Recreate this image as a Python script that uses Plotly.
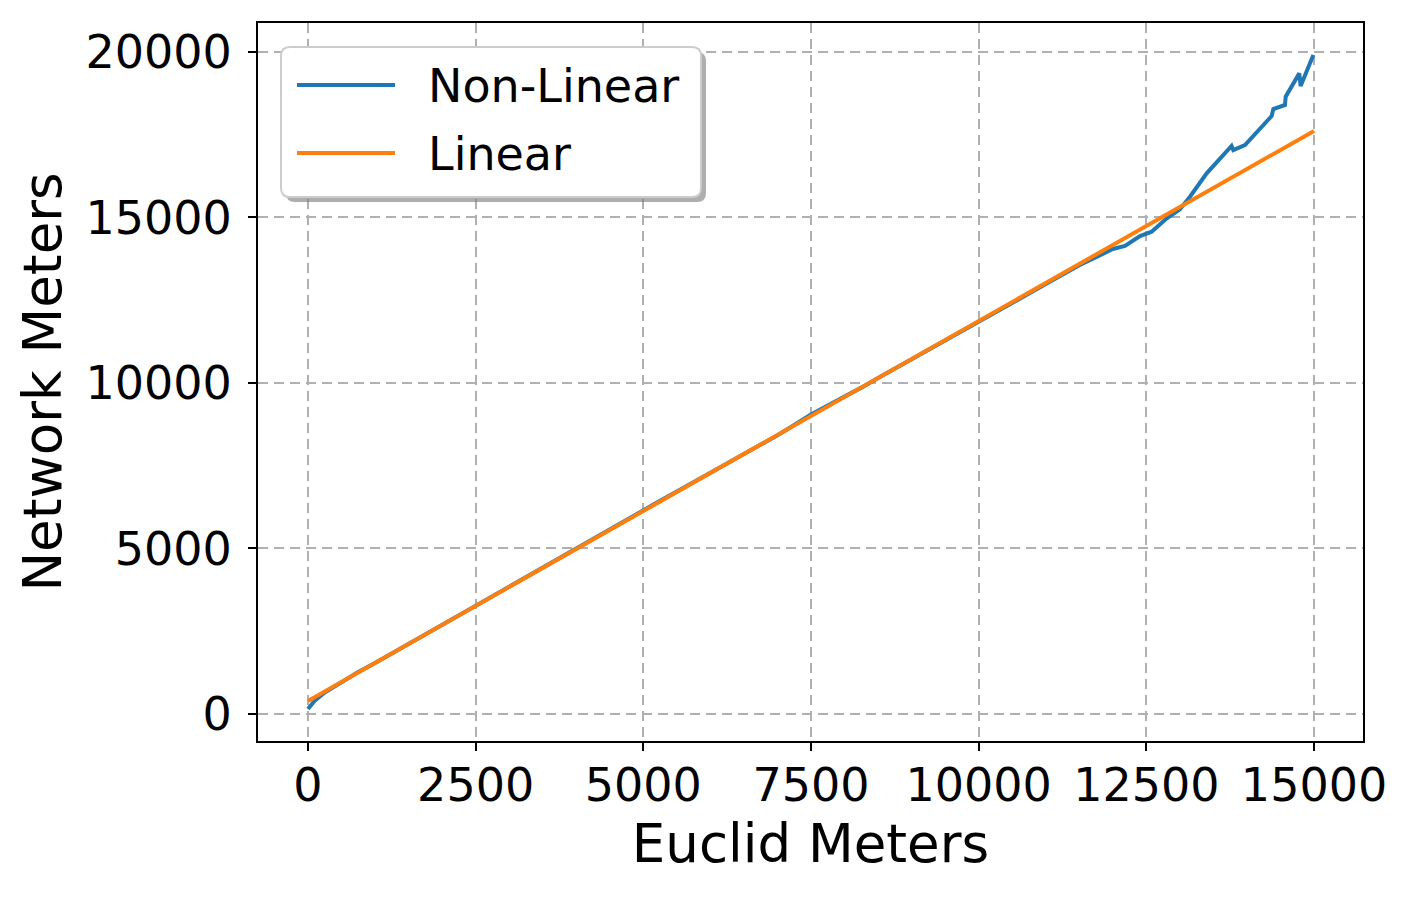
import plotly.graph_objects as go

# ---- data ----
nonlinear_x = [0, 100, 250, 500, 750, 1000, 1250, 1500, 1750, 2000, 2250, 2500, 2750, 3000,
               3250, 3500, 3750, 4000, 4250, 4500, 4750, 5000, 5250, 5500, 5750, 6000, 6250,
               6500, 6750, 7000, 7250, 7500, 7750, 8000, 8250, 8500, 8750, 9000, 9250, 9500,
               9750, 10000, 10250, 10500, 10750, 11000, 11250, 11500, 11750, 12000, 12181,
               12405, 12579, 12800, 13000, 13150, 13399, 13771, 13796, 13970, 14368, 14393,
               14567, 14577, 14780, 14800, 14990]
nonlinear_y = [150, 400, 650, 960, 1270, 1540, 1830, 2110, 2400, 2680, 2970, 3250, 3540, 3830,
               4120, 4410, 4700, 4990, 5300, 5600, 5880, 6170, 6440, 6720, 7000, 7280, 7550,
               7840, 8120, 8420, 8730, 9050, 9320, 9580, 9860, 10150, 10430, 10720, 10990, 11280,
               11570, 11850, 12130, 12410, 12700, 12990, 13280, 13560, 13800, 14050, 14139,
               14441, 14571, 14970, 15250, 15628, 16334, 17160, 17039, 17190, 18066, 18278,
               18399, 18650, 19354, 18973, 19909]
linear_x = [0, 15000]
linear_y = [393, 17613]
series_names = ["Non-Linear", "Linear"]
x_ticks = [0, 2500, 5000, 7500, 10000, 12500, 15000]
y_ticks = [0, 5000, 10000, 15000, 20000]

OFF = 8  # default page body margin
W, H = 1410 - 2 * OFF, 897 - 2 * OFF
# plot area in page pixels
PL, PR, PT, PB = 258, 1363, 23, 741
L, R, T, B = PL - OFF, PR - OFF, PT - OFF, PB - OFF
FONT = "DejaVu Sans"
BLUE, ORANGE = "#1f77b4", "#ff7f0e"


def px(x):  # page pixel -> paper
    return (x - PL) / (PR - PL)


def py(y):
    return (PB - y) / (PB - PT)


def rrect(x0, y0, x1, y1, r):
    return (f"M {px(x0 + r)} {py(y0)} L {px(x1 - r)} {py(y0)} "
            f"Q {px(x1)} {py(y0)} {px(x1)} {py(y0 + r)} "
            f"L {px(x1)} {py(y1 - r)} Q {px(x1)} {py(y1)} {px(x1 - r)} {py(y1)} "
            f"L {px(x0 + r)} {py(y1)} Q {px(x0)} {py(y1)} {px(x0)} {py(y1 - r)} "
            f"L {px(x0)} {py(y0 + r)} Q {px(x0)} {py(y0)} {px(x0 + r)} {py(y0)} Z")


fig = go.Figure()
fig.add_trace(go.Scatter(x=nonlinear_x, y=nonlinear_y, mode="lines", name=series_names[0],
                         line=dict(color=BLUE, width=4)))
fig.add_trace(go.Scatter(x=linear_x, y=linear_y, mode="lines", name=series_names[1],
                         line=dict(color=ORANGE, width=4)))

axis_common = dict(
    showline=True, linecolor="black", linewidth=2, mirror=True,
    ticks="outside", ticklen=8, tickwidth=2, tickcolor="black",
    showgrid=True, gridcolor="#b0b0b0", gridwidth=2, griddash="10px,6px",
    zeroline=False, tickfont=dict(family=FONT, size=46, color="black"),
)
fig.update_xaxes(range=[-745, 15730], tickvals=x_ticks, ticktext=[str(v) for v in x_ticks],
                 ticklabelstandoff=-5,
                 title=dict(text="Euclid Meters", font=dict(family=FONT, size=53, color="black"),
                            standoff=14),
                 **axis_common)
fig.update_yaxes(range=[-816, 20876], tickvals=y_ticks, ticktext=[str(v) for v in y_ticks],
                 ticklabelstandoff=7,
                 title=dict(text="Network Meters", font=dict(family=FONT, size=53, color="black"),
                            standoff=7),
                 **axis_common)

# manual legend (matplotlib-style with shadow)
lx0, ly0, lx1, ly1 = 281, 47, 701, 197
shapes = [
    dict(type="path", xref="paper", yref="paper", path=rrect(lx0 + 5, ly0 + 5, lx1 + 5, ly1 + 5, 9),
         fillcolor="rgba(120,120,120,0.6)", line=dict(width=0), layer="above"),
    dict(type="path", xref="paper", yref="paper", path=rrect(lx0, ly0, lx1, ly1, 9),
         fillcolor="white", line=dict(color="#cccccc", width=2), layer="above"),
]
items = [(series_names[0], BLUE, 85), (series_names[1], ORANGE, 153)]
annotations = []
for name, color, ypix in items:
    shapes.append(dict(type="line", xref="paper", yref="paper", x0=px(297), x1=px(395),
                       y0=py(ypix), y1=py(ypix), line=dict(color=color, width=4), layer="above"))
    annotations.append(dict(text=name, xref="paper", yref="paper", x=px(426), y=py(ypix + 1),
                            xanchor="left", yanchor="middle", showarrow=False,
                            font=dict(family=FONT, size=46, color="black")))

fig.update_layout(
    width=W, height=H,
    margin=dict(l=L, r=W - R, t=T, b=H - B, autoexpand=False),
    paper_bgcolor="white", plot_bgcolor="white",
    showlegend=False,
    shapes=shapes, annotations=annotations,
    font=dict(family=FONT, color="black"),
)

fig.write_html("out.html")
